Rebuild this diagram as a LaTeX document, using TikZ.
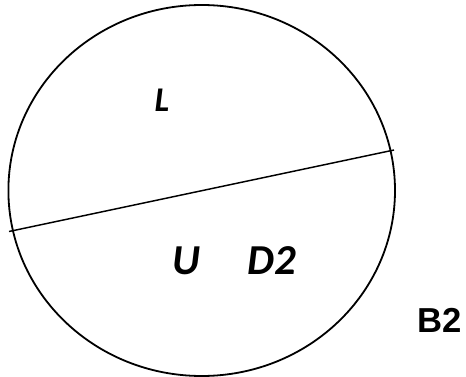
\documentclass[tikz,border=0pt]{standalone}
\usepackage{fontspec}
\newfontfamily\carl{Carlito}
\newfontfamily\lib{Liberation Sans}
\begin{document}
\begin{tikzpicture}[x=0.75pt,y=-0.75pt,
  lbl/.style={inner sep=0pt,font=\carl\bfseries\itshape},
  lblb/.style={inner sep=0pt,font=\lib\bfseries\fontsize{26}{30}\selectfont},
  edge/.style={line width=1.35pt}]
\useasboundingbox (0,0) rectangle (466,377);
\draw[edge] (201.7,190.5) ellipse [x radius=193.3, y radius=185.5];
\coordinate (a) at (9,231.5);
\coordinate (b) at (394,150);
\draw[line width=1.1pt] (a) -- (b);
\node[lbl,font=\carl\bfseries\itshape\fontsize{26}{30}\selectfont] (L) at (162,100) {L};
\node[lbl,font=\carl\bfseries\itshape\fontsize{32}{36}\selectfont] (U) at (186,261) {U};
\node[lbl,font=\carl\bfseries\itshape\fontsize{32}{36}\selectfont] (D2) at (272,261) {D2};
\node[lblb] (B2) at (439.5,320.5) {B2};
\end{tikzpicture}
\end{document}
